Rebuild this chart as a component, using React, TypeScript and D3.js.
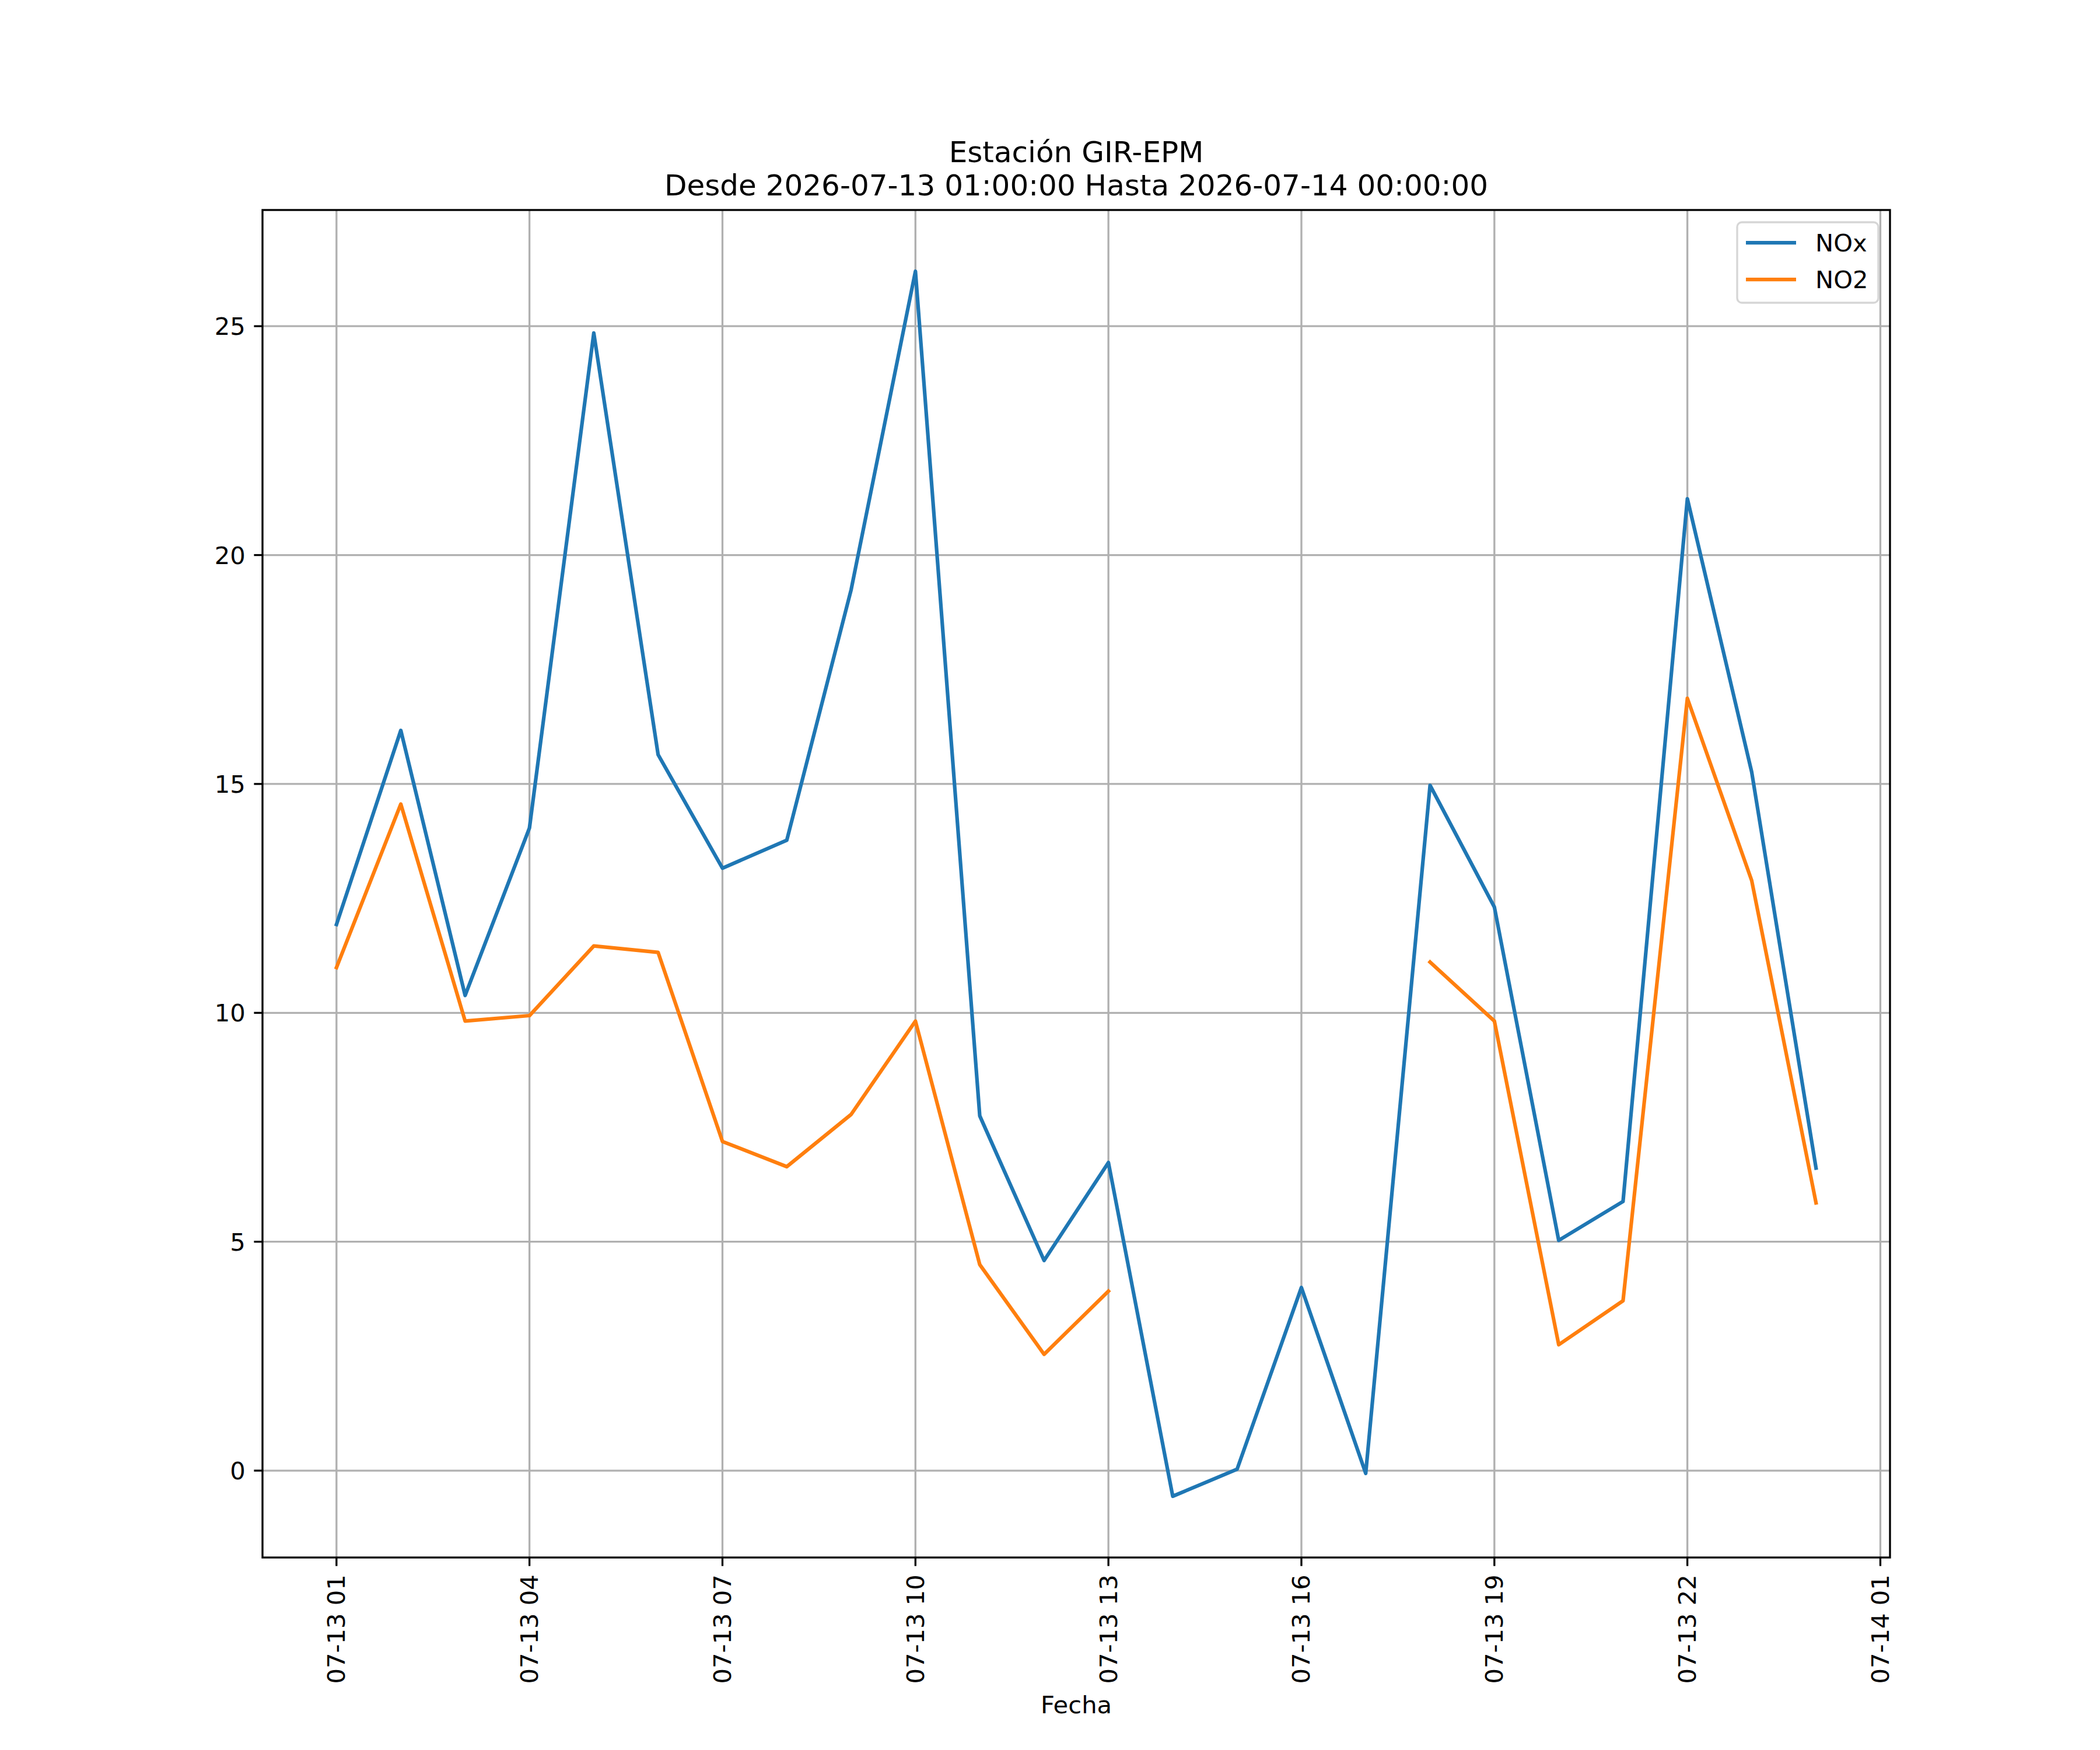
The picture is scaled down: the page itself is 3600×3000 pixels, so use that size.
import React from 'react';
import * as d3 from 'd3';

// horas de medición: 2026-07-13 01:00 ... 2026-07-14 00:00
const START = new Date(2026, 6, 13, 1);
const HOURS: Date[] = d3.range(24).map(h => d3.timeHour.offset(START, h));

// concentraciones (null = sin dato)
const NOX: (number | null)[] = [
  11.93, 16.17, 10.38, 14.04, 24.85, 15.64, 13.16, 13.77, 19.24, 26.2, 7.75, 4.59,
  6.73, -0.56, 0.03, 4.0, -0.06, 14.97, 12.31, 5.03, 5.88, 21.23, 15.26, 6.61,
];
const NO2: (number | null)[] = [
  10.99, 14.56, 9.82, 9.94, 11.46, 11.32, 7.19, 6.64, 7.78, 9.82, 4.5, 2.54,
  3.92, null, null, null, null, 11.11, 9.82, 2.75, 3.71, 16.87, 12.89, 5.85,
];

const SERIES_NAMES = ['NOx', 'NO2'];
const SERIES_VALUES = [NOX, NO2];
const SERIES_COLORS = ['#1f77b4', '#ff7f0e'];

const TITLE_LINES = ['Estación GIR-EPM', 'Desde 2026-07-13 01:00:00 Hasta 2026-07-14 00:00:00'];
const X_LABEL = 'Fecha';
const Y_TICKS = [0, 5, 10, 15, 20, 25];
const X_TICKS: Date[] = d3.timeHour.range(START, d3.timeHour.offset(START, 25), 3);

const W = 3600;
const H = 3000;
const M = { left: 450, right: 3240, top: 360, bottom: 2670 };
const FONT = '"DejaVu Sans", sans-serif';
const FS = 41.67; // 10pt @ 300dpi
const LW = 3.33; // 0.8pt

export default function App() {
  // dominio con 5% de margen, como matplotlib
  const [t0, t1] = d3.extent(HOURS) as [Date, Date];
  const span = +t1 - +t0;
  const x = d3.scaleTime()
    .domain([new Date(+t0 - span * 0.05), new Date(+t1 + span * 0.05)])
    .range([M.left, M.right]);

  const all = SERIES_VALUES.flat().filter((v): v is number => v != null);
  const [ymin, ymax] = d3.extent(all) as [number, number];
  const pad = (ymax - ymin) * 0.05;
  const y = d3.scaleLinear().domain([ymin - pad, ymax + pad]).range([M.bottom, M.top]);

  const fmt = d3.timeFormat('%m-%d %H');

  const line = d3.line<[Date, number | null]>()
    .defined(d => d[1] != null)
    .x(d => x(d[0]))
    .y(d => y(d[1] as number));

  const tickLen = 14.6;
  const tickPad = 14.6;

  return (
    <svg width={W} height={H} style={{ position: 'absolute', left: 0, top: 0, background: '#fff' }}
      fontFamily={FONT}>
      <rect x={0} y={0} width={W} height={H} fill="#fff" />
      <defs>
        <clipPath id="plot">
          <rect x={M.left} y={M.top} width={M.right - M.left} height={M.bottom - M.top} />
        </clipPath>
      </defs>

      {/* título */}
      {TITLE_LINES.map((t, i) => (
        <text key={t} x={(M.left + M.right) / 2} y={335 - (TITLE_LINES.length - 1 - i) * 57}
          textAnchor="middle" fontSize={50} fill="#000">{t}</text>
      ))}

      {/* rejilla */}
      <g stroke="#b0b0b0" strokeWidth={LW}>
        {X_TICKS.filter(t => x(t) >= M.left && x(t) <= M.right).map(t => (
          <line key={+t} x1={x(t)} x2={x(t)} y1={M.top} y2={M.bottom} />
        ))}
        {Y_TICKS.map(v => (
          <line key={v} x1={M.left} x2={M.right} y1={y(v)} y2={y(v)} />
        ))}
      </g>

      {/* series */}
      <g clipPath="url(#plot)" fill="none" strokeWidth={6.25} strokeLinejoin="round" strokeLinecap="square">
        {SERIES_VALUES.map((vals, i) => (
          <path key={SERIES_NAMES[i]} stroke={SERIES_COLORS[i]}
            d={line(HOURS.map((h, k) => [h, vals[k]])) || ''} />
        ))}
      </g>

      {/* marco */}
      <rect x={M.left} y={M.top} width={M.right - M.left} height={M.bottom - M.top}
        fill="none" stroke="#000" strokeWidth={LW} />

      {/* eje x */}
      {X_TICKS.map(t => (
        <g key={+t} transform={`translate(${x(t)},${M.bottom})`}>
          <line y1={0} y2={tickLen} stroke="#000" strokeWidth={LW} />
          <text transform={`translate(0,${tickLen + tickPad}) rotate(-90)`} textAnchor="end"
            dominantBaseline="central" fontSize={FS} fill="#000">{fmt(t)}</text>
        </g>
      ))}
      <text x={(M.left + M.right) / 2} y={2937} textAnchor="middle" fontSize={FS} fill="#000">{X_LABEL}</text>

      {/* eje y */}
      {Y_TICKS.map(v => (
        <g key={v} transform={`translate(${M.left},${y(v)})`}>
          <line x1={-tickLen} x2={0} stroke="#000" strokeWidth={LW} />
          <text x={-tickLen - tickPad} y={15} textAnchor="end" fontSize={FS} fill="#000">{v}</text>
        </g>
      ))}

      {/* leyenda */}
      <g>
        <rect x={2978} y={381} width={242} height={138} rx={8} ry={8}
          fill="#fff" fillOpacity={0.8} stroke="#cccccc" strokeOpacity={0.8} strokeWidth={LW} />
        {SERIES_NAMES.map((n, i) => (
          <g key={n} transform={`translate(0,${416 + i * 63})`}>
            <line x1={2993} x2={3079} stroke={SERIES_COLORS[i]} strokeWidth={6.25} />
            <text x={3112} y={15} fontSize={FS} fill="#000">{n}</text>
          </g>
        ))}
      </g>
    </svg>
  );
}
